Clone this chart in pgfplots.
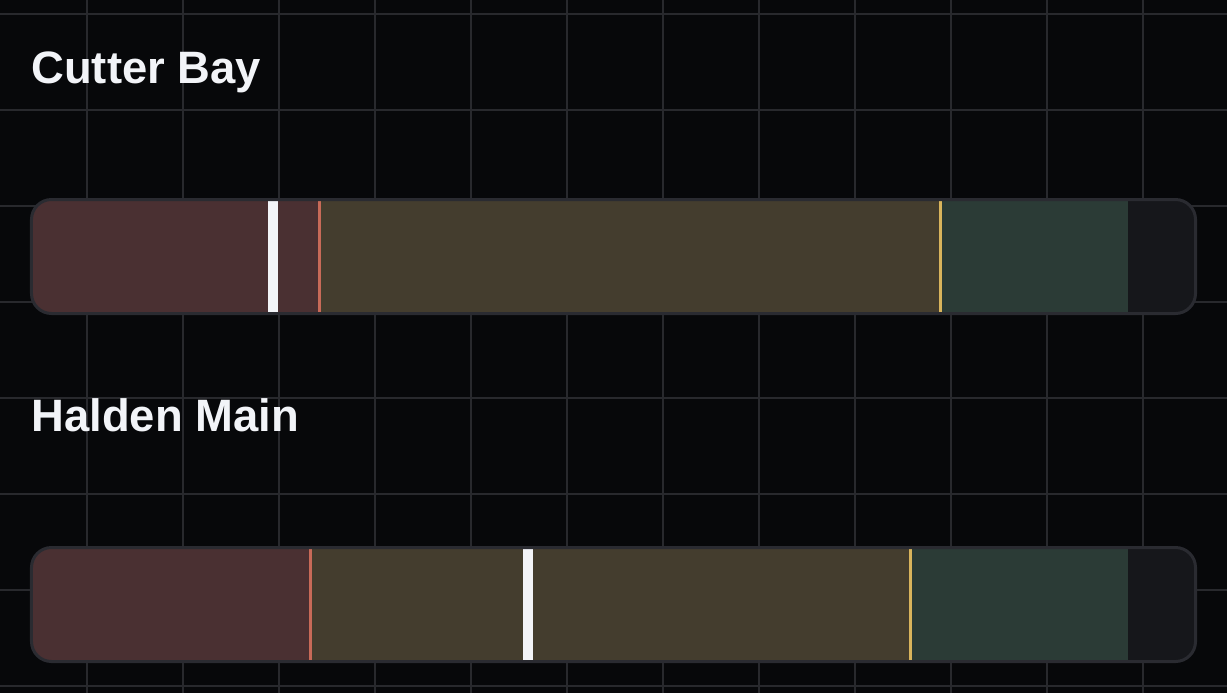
\documentclass[border=0pt]{standalone}
\usepackage{pgfplots}
\pgfplotsset{compat=1.18}
\usepackage{fontspec}
\setmainfont{Liberation Sans}

\definecolor{bg}{HTML}{07080A}
\definecolor{gridc}{HTML}{28292D}
\definecolor{border}{HTML}{2A2B31}
\definecolor{track}{HTML}{16171B}
\definecolor{poor}{HTML}{4A3032}
\definecolor{fair}{HTML}{443D2E}
\definecolor{good}{HTML}{2B3B36}
\definecolor{poorline}{HTML}{C86A58}
\definecolor{fairline}{HTML}{D9B45C}
\definecolor{marker}{HTML}{F3F4F8}
\definecolor{title}{HTML}{F2F4F8}

\begin{document}
\begin{tikzpicture}[x=0.5pt,y=0.5pt]
  % canvas 1227 x 693 px, 1px = 0.5pt
  \path[use as bounding box] (0,0) rectangle (1227,693);
  \fill[bg] (0,0) rectangle (1227,693);
  \foreach \gx in {87,183,...,1143} \draw[gridc,line width=1pt] (\gx,0) -- (\gx,693);
  \foreach \gy in {14,110,...,686} \draw[gridc,line width=1pt] (0,693-\gy) -- (1227,693-\gy);

  \node[anchor=base west,inner sep=0pt,text=title,font=\bfseries\fontsize{22.7}{27}\selectfont]
    at (31,693-83.5) {Cutter Bay};
  \node[anchor=base west,inner sep=0pt,text=title,font=\bfseries\fontsize{22.7}{27}\selectfont]
    at (31,693-431.7) {Halden Main};

  \begin{axis}[
      at={(0,0)}, anchor=south west,
      scale only axis, width=613.5pt, height=346.5pt,
      xmin=-2.842, xmax=102.842,   % 0..100 = inner bar width
      ymin=0, ymax=693, y dir=reverse,
      hide axis, clip=false,
    ]
    % ---- Cutter Bay: poor < 24.66, fair < 78.16, good < 94.32, value 20.67
    \addplot[fill=track,draw=none,rounded corners=10pt] coordinates
      {(50,199.5) (100.13,199.5) (100.13,313.5) (-0.13,313.5) (-0.13,199.5)} -- cycle;
    \addplot[fill=poor,draw=none,rounded corners=10pt] coordinates
      {(10,199.5) (27.66,199.5) (27.66,313.5) (-0.13,313.5) (-0.13,199.5)} -- cycle;
    \addplot[fill=fair,draw=none] coordinates
      {(24.66,199.5) (78.16,199.5) (78.16,313.5) (24.66,313.5)} -- cycle;
    \addplot[fill=good,draw=none] coordinates
      {(78.16,199.5) (94.32,199.5) (94.32,313.5) (78.16,313.5)} -- cycle;
    \addplot[poorline,line width=1.5pt] coordinates {(24.66,201) (24.66,312)};
    \addplot[fairline,line width=1.5pt] coordinates {(78.16,201) (78.16,312)};
    \addplot[marker,line width=4.7pt] coordinates {(20.67,201) (20.67,312)};
    \addplot[draw=border,line width=1.5pt,rounded corners=10pt] coordinates
      {(50,199.5) (100.13,199.5) (100.13,313.5) (-0.13,313.5) (-0.13,199.5)} -- cycle;

    % ---- Halden Main: poor < 23.90, fair < 75.58, good < 94.32, value 42.64
    \addplot[fill=track,draw=none,rounded corners=10pt] coordinates
      {(50,547.5) (100.13,547.5) (100.13,661.5) (-0.13,661.5) (-0.13,547.5)} -- cycle;
    \addplot[fill=poor,draw=none,rounded corners=10pt] coordinates
      {(10,547.5) (26.90,547.5) (26.90,661.5) (-0.13,661.5) (-0.13,547.5)} -- cycle;
    \addplot[fill=fair,draw=none] coordinates
      {(23.90,547.5) (75.58,547.5) (75.58,661.5) (23.90,661.5)} -- cycle;
    \addplot[fill=good,draw=none] coordinates
      {(75.58,547.5) (94.32,547.5) (94.32,661.5) (75.58,661.5)} -- cycle;
    \addplot[poorline,line width=1.5pt] coordinates {(23.90,549) (23.90,660)};
    \addplot[fairline,line width=1.5pt] coordinates {(75.58,549) (75.58,660)};
    \addplot[marker,line width=4.7pt] coordinates {(42.64,549) (42.64,660)};
    \addplot[draw=border,line width=1.5pt,rounded corners=10pt] coordinates
      {(50,547.5) (100.13,547.5) (100.13,661.5) (-0.13,661.5) (-0.13,547.5)} -- cycle;
  \end{axis}
\end{tikzpicture}
\end{document}
